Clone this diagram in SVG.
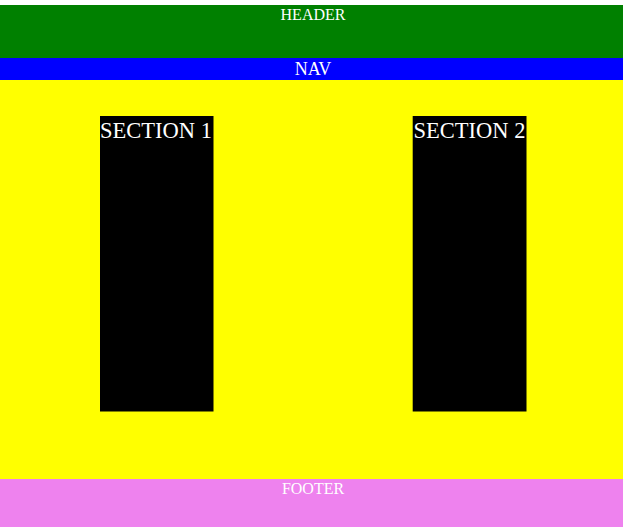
<svg xmlns="http://www.w3.org/2000/svg" width="623" height="527" viewBox="0 0 623 527">
<style>
text{font-family:"Liberation Serif","Times New Roman",serif;fill:#fff;text-anchor:middle}
.sec{fill:#000}
</style>
<rect x="0" y="0" width="623" height="527" fill="#fff"/>
<g id="header"><rect x="0" y="5" width="623" height="53" fill="#008000"/><text x="313" y="20" font-size="16">HEADER</text></g>
<g id="nav"><rect x="0" y="58" width="623" height="22" fill="#0000ff"/><text x="313" y="75" font-size="18">NAV</text></g>
<g id="main"><rect x="0" y="80" width="623" height="399" fill="#ffff00"/></g>
<g id="section1"><rect class="sec" x="100" y="116" width="113.5" height="295.5"/><text x="156" y="138" font-size="22.5">SECTION 1</text></g>
<g id="section2"><rect class="sec" x="412.7" y="116" width="113.8" height="295.5"/><text x="469.5" y="138" font-size="22.5">SECTION 2</text></g>
<g id="footer"><rect x="0" y="479" width="623" height="48" fill="#ee82ee"/><text x="313" y="494" font-size="16">FOOTER</text></g>
<g id="connectors"/>
</svg>
